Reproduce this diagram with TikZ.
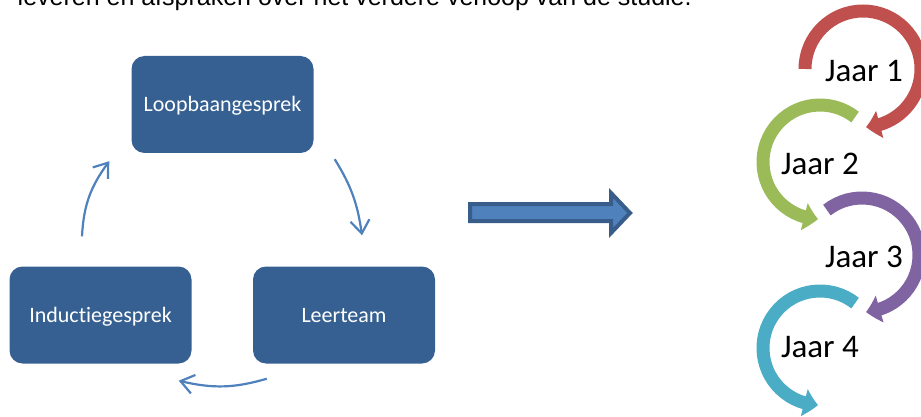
\documentclass[tikz,border=0pt]{standalone}
\usepackage{fontspec}
\setmainfont{Carlito}[Ligatures={NoCommon,NoRare}]
\newfontfamily\arialfont{Liberation Sans}
\usetikzlibrary{arrows.meta, bending, positioning}

\definecolor{boxblue}{HTML}{376092}
\definecolor{lineblue}{HTML}{4F81BD}
\definecolor{edgeblue}{HTML}{385D8A}
\definecolor{yearred}{HTML}{C0504D}
\definecolor{yeargreen}{HTML}{9BBB59}
\definecolor{yearpurple}{HTML}{8064A2}
\definecolor{yearteal}{HTML}{4BACC6}

\begin{document}
\begin{tikzpicture}[x=1pt,y=1pt,
    stagebox/.style={fill=boxblue, rounded corners=13pt, minimum width=182pt,
        minimum height=97pt, text=white, text height=14pt, text depth=0pt,
        font=\fontsize{22}{26}\selectfont},
    cyclearrow/.style={draw=lineblue, line width=2.2pt,
        -{Straight Barb[length=13pt,width=19pt]}},
    yeararc/.style={line width=13pt, -{Triangle[width=27pt,length=14pt,bend]}},
    yearlabel/.style={anchor=base, font=\fontsize{33}{38}\selectfont}]

  \useasboundingbox (0,0) rectangle (921,-417);

  % cut-off line of running text
  \begin{scope}
    \clip (0,0) rectangle (921,-417);
    \node[anchor=base west, inner sep=0pt, font=\arialfont\fontsize{25}{30}\selectfont]
      (runText) at (17.5,-5.5) {leveren en afspraken over het verdere verloop van de studie.};
  \end{scope}

  % the cycle
  \node[stagebox] (Loopbaan) at (222.5,-104.5) {Loopbaangesprek};
  \node[stagebox] (Leerteam) at (344,-315) {Leerteam};
  \node[stagebox] (Inductie) at (100.5,-315) {Inductiegesprek};

  \coordinate (loopOut) at ([shift={(21,-6)}]Loopbaan.south east);
  \coordinate (leerIn) at ([shift={(18,31)}]Leerteam.north);
  \coordinate (leerOut) at ([shift={(14,-15)}]Leerteam.south west);
  \coordinate (inducIn) at ([shift={(-13,-17)}]Inductie.south east);
  \coordinate (inducOut) at ([shift={(-18.5,30)}]Inductie.north);
  \coordinate (loopIn) at ([shift={(-22,-8)}]Loopbaan.south west);

  \draw[cyclearrow] (loopOut) to[bend left=12] (leerIn);
  \draw[cyclearrow] (leerOut) to[bend left=15] (inducIn);
  \draw[cyclearrow] (inducOut) to[bend left=17] (loopIn);

  % block arrow
  \draw[draw=edgeblue, fill=lineblue, line width=4pt, line join=miter]
    (470,-204) -- (611,-204) -- (611,-193) -- (630,-213) -- (611,-233)
    -- (611,-221) -- (470,-221) -- cycle;

  % the years
  \draw[yeararc, yearred] (805,-69) arc[start angle=180, end angle=-87, radius=58];
  \draw[yeararc, yeargreen] ([shift={(52:57)}]820,-162) arc[start angle=52, end angle=268, radius=57];
  \draw[yeararc, yearpurple] ([shift={(128:57)}]862,-255) arc[start angle=128, end angle=-86, radius=57];
  \draw[yeararc, yearteal] ([shift={(52:57)}]820,-348) arc[start angle=52, end angle=268, radius=57];

  \node[yearlabel] (jaarOne) at (864,-82) {Jaar 1};
  \node[yearlabel] (jaarTwo) at (820,-175) {Jaar 2};
  \node[yearlabel] (jaarThree) at (864,-267) {Jaar 3};
  \node[yearlabel] (jaarFour) at (820,-357) {Jaar 4};

\end{tikzpicture}
\end{document}
